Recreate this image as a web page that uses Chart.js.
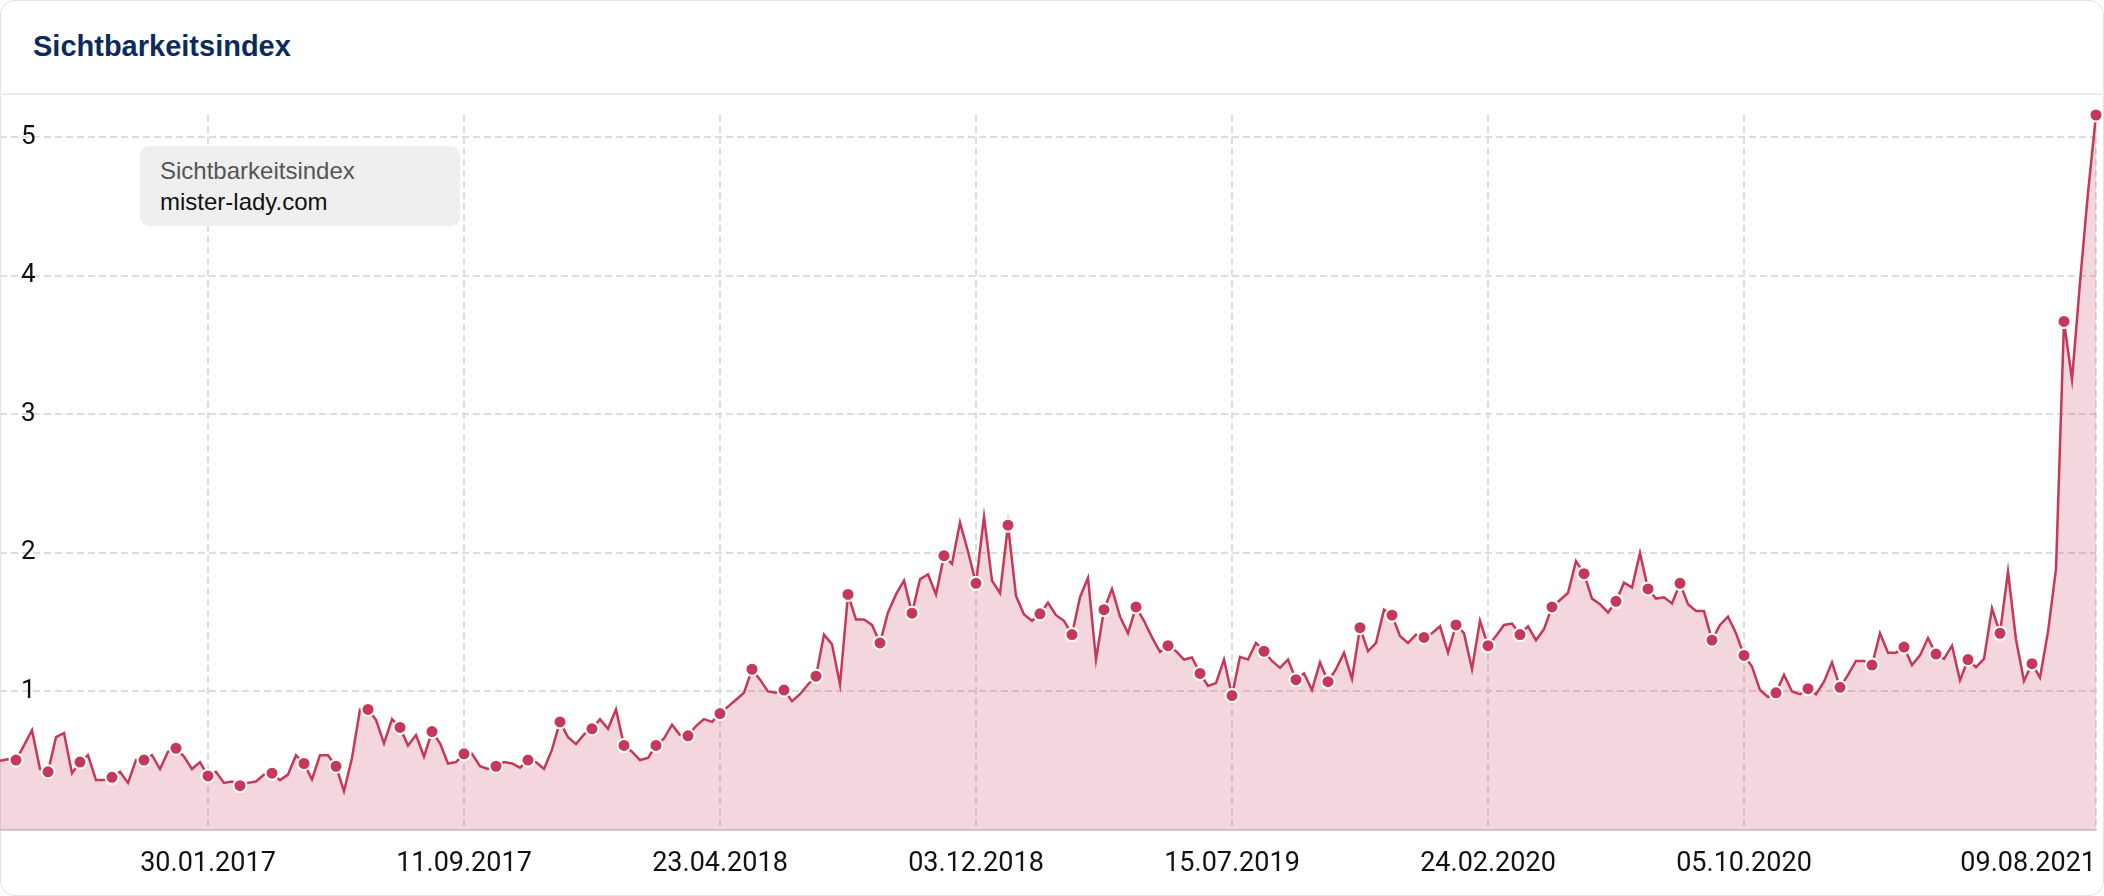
<!DOCTYPE html>
<html>
<head>
<meta charset="utf-8">
<title>Sichtbarkeitsindex</title>
<script src="https://cdn.jsdelivr.net/npm/chart.js@4.4.1/dist/chart.umd.min.js"></script>
<style>
    html, body { margin: 0; padding: 0; background: #fff; }
    .card {
        position: absolute; left: 0; top: 0; width: 2104px; height: 896px;
        box-sizing: border-box; border: 1px solid #e3e3e3; border-radius: 14px;
    }
    .card-head {
        position: absolute; left: 0; top: 0; width: 2104px; height: 95px;
        box-sizing: border-box; border-bottom: 2px solid #ececec;
    }
    .card-head h2 {
        position: absolute; left: 33px; top: 29px; margin: 0;
        font: 700 29px "Liberation Sans", Arial, sans-serif; line-height: 34px; color: #0c2b5d;
    }
    .chart-wrap { position: absolute; left: 0; top: 95px; width: 2104px; height: 801px; }
    .legend-box {
        position: absolute; left: 140px; top: 146px; width: 320px; height: 80px;
        background: #efefef; border-radius: 9px; box-sizing: border-box; padding: 9px 0 0 20px;
        font-family: "Liberation Sans", Arial, sans-serif; font-size: 24px; line-height: 31px;
    }
    .legend-box .l1 { color: #555; }
    .legend-box .l2 { color: #111; }
</style>
</head>
<body>
<div class="card"></div>
<div class="card-head"><h2>Sichtbarkeitsindex</h2></div>
<div class="chart-wrap"><canvas id="visChart"></canvas></div>
<div class="legend-box"><div class="l1">Sichtbarkeitsindex</div><div class="l2">mister-lady.com</div></div>
<script>
// weekly values, first week 01.08.2016
var startDate = Date.UTC(2016, 7, 1);
var xTickLabels = ['30.01.2017', '11.09.2017', '23.04.2018', '03.12.2018', '15.07.2019', '24.02.2020', '05.10.2020', '09.08.2021'];
var yTickValues = [1, 2, 3, 4, 5];
var visibility = [
    0.50, 0.51, 0.505, 0.61, 0.72, 0.44, 0.42, 0.67, 0.70, 0.41,
    0.49, 0.54, 0.36, 0.36, 0.38, 0.42, 0.34, 0.505, 0.505, 0.54,
    0.44, 0.565, 0.59, 0.53, 0.44, 0.49, 0.39, 0.42, 0.34, 0.35,
    0.32, 0.34, 0.35, 0.40, 0.41, 0.36, 0.40, 0.54, 0.48, 0.365,
    0.54, 0.54, 0.46, 0.28, 0.52, 0.87, 0.87, 0.795, 0.625, 0.80,
    0.74, 0.61, 0.685, 0.53, 0.71, 0.625, 0.48, 0.49, 0.55, 0.55,
    0.46, 0.44, 0.46, 0.49, 0.48, 0.45, 0.505, 0.49, 0.44, 0.58,
    0.78, 0.67, 0.62, 0.69, 0.73, 0.80, 0.73, 0.87, 0.61, 0.565,
    0.505, 0.52, 0.61, 0.66, 0.76, 0.685, 0.68, 0.75, 0.80, 0.78,
    0.84, 0.89, 0.94, 0.99, 1.16, 1.085, 1.00, 0.99, 1.01, 0.93,
    0.98, 1.05, 1.11, 1.41, 1.34, 1.05, 1.70, 1.52, 1.52, 1.48,
    1.35, 1.57, 1.70, 1.80, 1.565, 1.81, 1.845, 1.70, 1.98, 1.92,
    2.22, 2.01, 1.78, 2.26, 1.80, 1.71, 2.20, 1.69, 1.555, 1.51,
    1.56, 1.64, 1.55, 1.51, 1.41, 1.68, 1.82, 1.23, 1.59, 1.74,
    1.54, 1.42, 1.61, 1.51, 1.39, 1.285, 1.33, 1.29, 1.23, 1.245,
    1.13, 1.04, 1.06, 1.23, 0.97, 1.25, 1.23, 1.35, 1.29, 1.22,
    1.17, 1.23, 1.085, 1.13, 1.01, 1.21, 1.07, 1.16, 1.28, 1.09,
    1.46, 1.29, 1.35, 1.59, 1.55, 1.40, 1.35, 1.41, 1.39, 1.42,
    1.47, 1.28, 1.48, 1.42, 1.16, 1.51, 1.33, 1.40, 1.48, 1.49,
    1.41, 1.47, 1.37, 1.45, 1.61, 1.66, 1.71, 1.94, 1.85, 1.67,
    1.63, 1.57, 1.65, 1.785, 1.75, 2.00, 1.74, 1.67, 1.68, 1.635,
    1.78, 1.63, 1.58, 1.58, 1.37, 1.48, 1.54, 1.42, 1.26, 1.18,
    1.01, 0.96, 0.99, 1.12, 1.00, 0.98, 1.02, 0.98, 1.07, 1.21,
    1.03, 1.12, 1.22, 1.22, 1.19, 1.42, 1.28, 1.28, 1.32, 1.19,
    1.26, 1.385, 1.27, 1.235, 1.33, 1.08, 1.23, 1.175, 1.235, 1.60,
    1.42, 1.865, 1.375, 1.075, 1.20, 1.10, 1.43, 1.885, 3.67, 3.25,
    3.95, 4.6, 5.16
];

function fmtDate(ms) {
    var d = new Date(ms);
    var dd = ('0' + d.getUTCDate()).slice(-2);
    var mm = ('0' + (d.getUTCMonth() + 1)).slice(-2);
    return dd + '.' + mm + '.' + d.getUTCFullYear();
}
var labels = visibility.map(function (v, i) { return fmtDate(startDate + i * 7 * 86400000); });

var lineColor = 'rgb(197, 56, 88)';
var gridColor = '#dddddd';

var ctx = document.getElementById('visChart').getContext('2d');
new Chart(ctx, {
    type: 'line',
    data: {
        labels: labels,
        datasets: [{
            label: 'mister-lady.com',
            data: visibility,
            borderColor: lineColor,
            backgroundColor: 'rgba(200, 56, 90, 0.2)',
            borderWidth: 2.5,
            fill: 'origin',
            tension: 0,
            clip: false,
            pointRadius: function (c) { return c.dataIndex % 4 === 2 ? 6.5 : 0; },
            pointBackgroundColor: lineColor,
            pointBorderColor: '#fff',
            pointBorderWidth: 2
        }]
    },
    options: {
        responsive: true,
        maintainAspectRatio: false,
        animation: false,
        layout: { autoPadding: false, padding: { top: 20, right: 8, bottom: 6, left: 0 } },
        plugins: {
            legend: { display: false },
            tooltip: { enabled: false }
        },
        scales: {
            x: {
                border: { display: true, color: '#d6d6d6', width: 2, dash: [7, 4] },
                grid: {
                    drawTicks: false,
                    color: function (c) { return c.index === 0 ? 'rgba(0,0,0,0)' : gridColor; },
                    lineWidth: 2
                },
                ticks: {
                    autoSkip: false,
                    maxRotation: 0,
                    align: 'inner',
                    padding: 18,
                    color: '#111',
                    font: { family: 'Roboto', size: 27 },
                    callback: function (v) { return v === 0 ? '' : labels[v]; }
                },
                afterBuildTicks: function (scale) {
                    var keep = [0];
                    xTickLabels.forEach(function (t) { keep.push(labels.indexOf(t)); });
                    scale.ticks = keep.map(function (i) { return { value: i }; });
                },
                afterFit: function (scale) {
                    scale.height = 60;
                    scale.paddingLeft = 0;
                    scale.paddingRight = 0;
                }
            },
            y: {
                min: 0,
                max: Math.max.apply(null, visibility),
                border: { display: false, dash: [7, 4] },
                grid: {
                    drawTicks: false,
                    color: function (c) { return c.tick && c.tick.value === 0 ? 'rgba(0,0,0,0)' : gridColor; },
                    lineWidth: 2
                },
                ticks: {
                    mirror: true,
                    padding: 21,
                    includeBounds: false,
                    color: '#111',
                    font: { family: 'Roboto', size: 26 },
                    callback: function (v) { return yTickValues.indexOf(v) >= 0 ? v : ''; }
                },
                afterBuildTicks: function (scale) {
                    scale.ticks = [0].concat(yTickValues).map(function (v) { return { value: v }; });
                },
                afterFit: function (scale) {
                    scale.width = 0;
                    scale.paddingTop = 0;
                    scale.paddingBottom = 0;
                }
            }
        }
    }
});
</script>
</body>
</html>
